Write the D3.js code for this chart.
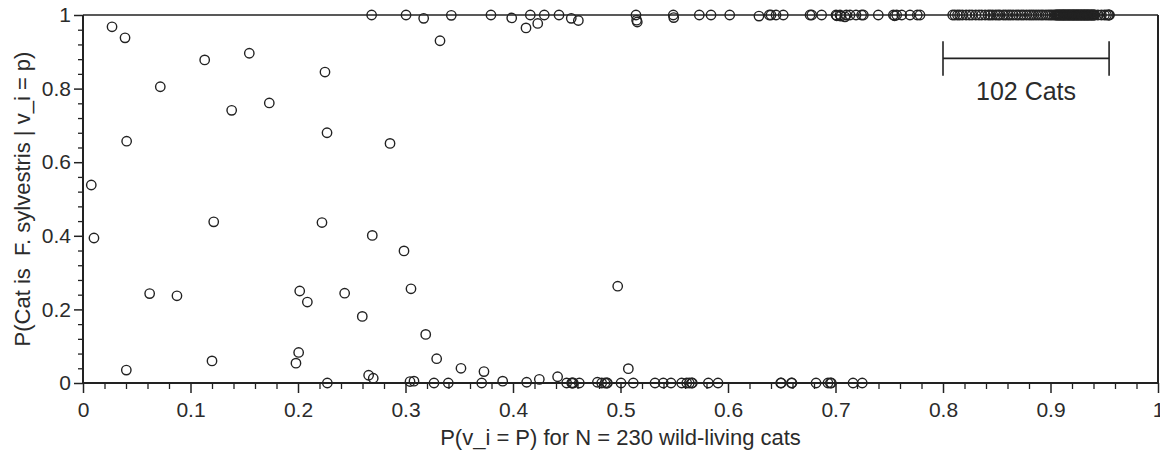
<!DOCTYPE html>
<html>
<head>
<meta charset="utf-8">
<script src="https://cdn.jsdelivr.net/npm/d3@7"></script>
<style>
  html, body { margin: 0; padding: 0; background: #fff; }
  svg { display: block; }
  text { font-family: "Liberation Sans", Arial, Helvetica, sans-serif; fill: #2b2b2b; }
</style>
</head>
<body>
<svg id="chart" width="1160" height="453"></svg>
<script>
// ---------- data ----------
// scattered cats (not at the 0 / 1 extremes)
const midX = [0.0270,0.0391,0.0719,0.1132,0.1547,0.1383,0.1733,0.2251,0.2270,0.2856,
              0.0406,0.0077,0.0102,0.1216,0.2223,0.2691,0.0620,0.0874,0.2016,0.2087,
              0.2434,0.2598,0.0403,0.1200,0.2006,0.1981,0.2657,0.2700,0.2986,0.3051,
              0.3188,0.3290,0.3516,0.3730,0.4415,0.5073,0.4974,0.4245,0.3321,0.4121,0.4230];
const midY = [0.968,0.938,0.805,0.878,0.896,0.741,0.761,0.845,0.680,0.651,
              0.657,0.538,0.394,0.438,0.436,0.401,0.243,0.237,0.250,0.220,
              0.244,0.181,0.035,0.060,0.083,0.054,0.021,0.013,0.359,0.256,
              0.132,0.066,0.040,0.031,0.017,0.039,0.263,0.010,0.930,0.965,0.977];

// cats near P = 0
const lowX = [0.2273,0.3042,0.3079,0.3265,0.3398,0.3709,0.3904,0.4127,0.4499,0.4546,
              0.4552,0.4561,0.4617,0.4785,0.4825,0.4856,0.4872,0.4878,0.5005,0.5119,
              0.5321,0.5398,0.5470,0.5569,0.5616,0.5640,0.5662,0.5668,0.5817,0.5907,
              0.6490,0.6495,0.6590,0.6595,0.6819,0.6930,0.6952,0.6961,0.7163,0.7249];
const lowY = [0.000,0.004,0.005,0.000,0.000,0.000,0.005,0.002,0.000,0.000,
              0.000,0.000,0.000,0.002,0.000,0.000,0.000,0.000,0.000,0.000,
              0.000,0.000,0.000,0.000,0.000,0.000,0.000,0.000,0.000,0.000,
              0.000,0.000,0.000,0.000,0.000,0.000,0.000,0.000,0.000,0.000];

// cats near P = 1 (outside the bracketed group)
const highX = [0.2685,0.3005,0.3169,0.3426,0.3795,0.3988,0.4161,0.4291,0.4428,0.4542,
               0.4608,0.5144,0.5150,0.5156,0.5491,0.5495,0.5733,0.5842,0.6016,0.6288,
               0.6384,0.6400,0.6447,0.6514,0.6763,0.6779,0.6871,0.7005,0.7012,0.7042,
               0.7050,0.7088,0.7100,0.7135,0.7191,0.7243,0.7259,0.7398,0.7538,0.7550,
               0.7569,0.7616,0.7693,0.7761,0.7786];
const highY = [1.000,1.000,0.991,0.999,1.000,0.992,1.000,1.000,1.000,0.991,
               0.985,1.000,0.986,0.981,1.000,0.993,1.000,1.000,1.000,0.997,
               1.000,1.000,1.000,1.000,1.000,1.000,1.000,1.000,0.998,1.000,
               0.997,0.995,1.000,1.000,1.000,1.000,1.000,1.000,1.000,0.998,
               1.000,1.000,1.000,1.000,1.000];

// the 102 cats grouped under the bracket
const groupX = [0.809,0.811,0.8135,0.8155,0.818,0.8215,0.8245,0.827,0.8305,0.8335,
                0.836,0.8392,0.8421,0.844,0.8463,0.849,0.8512,0.853,0.8561,0.8583,
                0.8607,0.8628,0.8652,0.868,0.8703,0.8728,0.8749,0.8776,0.8801,0.8822,
                0.8843,0.8866,0.8889,0.8912,0.8931,0.8957,0.8978,0.8996,0.9013,0.9031,
                0.9046,0.9053,0.9062,0.9068,0.9077,0.9082,0.9089,0.9097,0.9101,0.9112,
                0.9116,0.9122,0.9128,0.9137,0.9141,0.9149,0.9157,0.9162,0.9169,0.9176,
                0.9181,0.9188,0.9196,0.9203,0.9209,0.9214,0.9222,0.9228,0.9236,0.9241,
                0.9248,0.9256,0.9261,0.9267,0.9276,0.9281,0.9289,0.9294,0.9302,0.9308,
                0.9316,0.9321,0.9327,0.9336,0.9341,0.9349,0.9353,0.9362,0.9369,0.9378,
                0.9383,0.9391,0.9398,0.9406,0.9413,0.9441,0.9474,0.9502,0.9521,0.9538,
                0.9543,0.9549];
const groupY = 1.0;

const xTickValues = [0,0.1,0.2,0.3,0.4,0.5,0.6,0.7,0.8,0.9,1];
const xTickLabels = ["0","0.1","0.2","0.3","0.4","0.5","0.6","0.7","0.8","0.9","1"];
const yTickValues = [0,0.2,0.4,0.6,0.8,1];
const yTickLabels = ["0","0.2","0.4","0.6","0.8","1"];
const xMinorStep = 0.02;
const yMinorStep = 0.04;

const xTitle = "P(v_i = P) for N = 230 wild-living cats";
const yTitle = "P(Cat is  F. sylvestris | v_i = p)";

const bracketLabel = "102 Cats";
const bracketRange = [0.8, 0.9545];
const bracketLevel = 0.882;
const bracketHalf = 0.047;
const bracketLabelLevel = 0.768;

// ---------- layout ----------
const W = 1160, H = 453;
const m = {left: 83, right: 2, top: 15, bottom: 70};
const svg = d3.select("#chart");
const x = d3.scaleLinear().domain([0,1]).range([m.left, W - m.right]);
const y = d3.scaleLinear().domain([0,1]).range([H - m.bottom, m.top]);
const ink = "#222";

// minor ticks
const xMinor = d3.range(0, 1 + 1e-9, xMinorStep).filter(v => Math.abs(v*10 - Math.round(v*10)) > 1e-6);
const yMinor = d3.range(0, 1 + 1e-9, yMinorStep).filter(v => Math.abs(v*5 - Math.round(v*5)) > 1e-6);

const gxMinor = svg.append("g").attr("transform", `translate(0,${y(0)})`)
  .call(d3.axisBottom(x).tickValues(xMinor).tickSize(6).tickFormat(""));
const gyMinor = svg.append("g").attr("transform", `translate(${x(0)},0)`)
  .call(d3.axisLeft(y).tickValues(yMinor).tickSize(5).tickFormat(""));
[gxMinor, gyMinor].forEach(g => {
  g.select(".domain").remove();
  g.selectAll(".tick line").attr("stroke", ink).attr("stroke-width", 1.3);
});

const gx = svg.append("g").attr("transform", `translate(0,${y(0)})`)
  .call(d3.axisBottom(x).tickValues(xTickValues).tickSize(10).tickPadding(9)
        .tickFormat((d,i) => xTickLabels[i]));
const gy = svg.append("g").attr("transform", `translate(${x(0)},0)`)
  .call(d3.axisLeft(y).tickValues(yTickValues).tickSize(9).tickPadding(3)
        .tickFormat((d,i) => yTickLabels[i]));
[gx, gy].forEach(g => {
  g.select(".domain").remove();
  g.selectAll(".tick line").attr("stroke", ink).attr("stroke-width", 1.5);
  g.selectAll(".tick text").attr("font-size", 21).attr("fill", "#2b2b2b")
    .attr("font-family", '"Liberation Sans", Arial, sans-serif');
});

// frame
svg.append("line").attr("x1", x(0)).attr("x2", x(1)).attr("y1", y(1)).attr("y2", y(1))
  .attr("stroke", ink).attr("stroke-width", 1.7);
svg.append("line").attr("x1", x(1)).attr("x2", x(1)).attr("y1", y(1)).attr("y2", y(0))
  .attr("stroke", ink).attr("stroke-width", 2);
svg.append("line").attr("x1", x(0)).attr("x2", x(1)).attr("y1", y(0)).attr("y2", y(0))
  .attr("stroke", ink).attr("stroke-width", 2);
svg.append("line").attr("x1", x(0)).attr("x2", x(0)).attr("y1", y(1)).attr("y2", y(0))
  .attr("stroke", ink).attr("stroke-width", 2);

// points
const pts = [];
midX.forEach((v,i) => pts.push([v, midY[i]]));
lowX.forEach((v,i) => pts.push([v, lowY[i]]));
highX.forEach((v,i) => pts.push([v, highY[i]]));
groupX.forEach(v => pts.push([v, groupY]));

svg.append("g").selectAll("circle").data(pts).join("circle")
  .attr("cx", d => x(d[0])).attr("cy", d => y(d[1])).attr("r", 4.7)
  .attr("fill", "none").attr("stroke", ink).attr("stroke-width", 1.4);

// bracket
const bg = svg.append("g").attr("stroke", ink).attr("stroke-width", 1.6);
bg.append("line").attr("x1", x(bracketRange[0])).attr("x2", x(bracketRange[1]))
  .attr("y1", y(bracketLevel)).attr("y2", y(bracketLevel));
bracketRange.forEach(v => {
  bg.append("line").attr("x1", x(v)).attr("x2", x(v))
    .attr("y1", y(bracketLevel + bracketHalf)).attr("y2", y(bracketLevel - bracketHalf));
});
svg.append("text").attr("x", x((bracketRange[0] + bracketRange[1]) / 2)).attr("y", y(bracketLabelLevel))
  .attr("text-anchor", "middle").attr("font-size", 25).text(bracketLabel);

// titles
svg.append("text").attr("x", (x(0) + x(1)) / 2).attr("y", 445)
  .attr("text-anchor", "middle").attr("font-size", 22).text(xTitle);
svg.append("text").attr("transform", `translate(30,${(y(0) + y(1)) / 2}) rotate(-90)`)
  .attr("text-anchor", "middle").attr("font-size", 22)
  .style("white-space", "pre").attr("xml:space", "preserve").text(yTitle);
</script>
</body>
</html>
